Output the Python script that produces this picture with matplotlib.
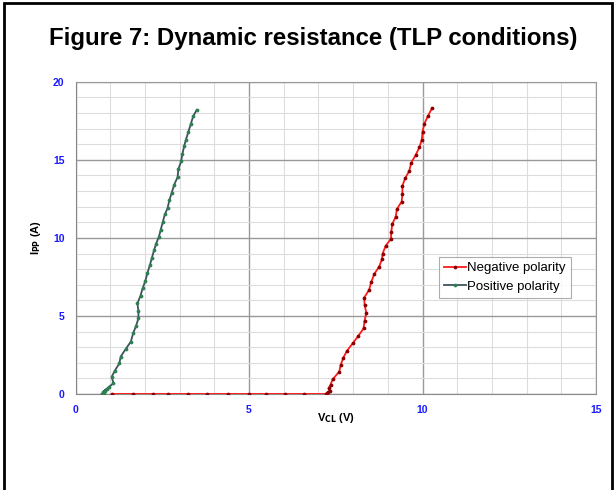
import numpy as np
import matplotlib.pyplot as plt
from matplotlib.lines import Line2D

plt.rcParams['font.family'] = ['Liberation Sans', 'DejaVu Sans']

# Positive polarity (V_CL, I_PP)
pos_v = [0.75, 0.78, 0.82, 0.85, 0.89, 0.80, 0.97, 1.09, 1.04, 1.13, 1.26, 1.30, 1.45, 1.59,
         1.66, 1.74, 1.81, 1.81, 1.78, 1.87, 1.93, 2.01, 2.07, 2.14, 2.20, 2.26,
         2.32, 2.40, 2.45, 2.51, 2.57, 2.65, 2.70, 2.77, 2.84, 2.94, 2.96, 3.04,
         3.08, 3.13, 3.18, 3.25, 3.32, 3.39, 3.49]
pos_i = [0.0, 0.05, 0.0, 0.2, 0.3, 0.15, 0.47, 0.68, 1.1, 1.5, 1.96, 2.4, 2.9, 3.35,
         3.9, 4.35, 4.84, 5.33, 5.8, 6.3, 6.76, 7.25, 7.76, 8.25, 8.74, 9.2,
         9.64, 10.06, 10.5, 11.0, 11.5, 11.9, 12.4, 12.9, 13.4, 13.9, 14.4, 14.9,
         15.4, 15.9, 16.3, 16.8, 17.3, 17.8, 18.2]

# Negative polarity (V_CL, I_PP)
neg_v = [1.04, 1.64, 2.23, 2.66, 3.25, 3.80, 4.40, 4.99, 5.49, 6.05, 6.59, 7.21,
         7.24, 7.28, 7.32, 7.29, 7.35, 7.41, 7.60, 7.64, 7.72, 7.82, 7.99, 8.15,
         8.30, 8.33, 8.38, 8.33, 8.32, 8.46, 8.52, 8.61, 8.75, 8.83, 8.85, 8.94,
         9.09, 9.10, 9.13, 9.23, 9.26, 9.40, 9.42, 9.42, 9.50, 9.62, 9.67, 9.80,
         9.91, 9.98, 10.0, 10.05, 10.15, 10.27]
neg_i = [0.0, 0.0, 0.0, 0.0, 0.0, 0.0, 0.0, 0.0, 0.0, 0.0, 0.0, 0.0,
         0.05, 0.1, 0.2, 0.36, 0.6, 0.94, 1.43, 1.86, 2.33, 2.76, 3.25, 3.72,
         4.2, 4.7, 5.2, 5.7, 6.18, 6.67, 7.16, 7.69, 8.16, 8.63, 9.0, 9.5,
         9.94, 10.4, 10.9, 11.37, 11.84, 12.33, 12.82, 13.33, 13.82, 14.3, 14.8, 15.3,
         15.8, 16.3, 16.8, 17.3, 17.78, 18.3]

neg_style = dict(color='#ff1a1a', lw=1.3, marker='o', ms=1.7, mfc='#8c0000', mec='#8c0000')
pos_style = dict(color='#3d5260', lw=1.3, marker='o', ms=1.7, mfc='#2e8050', mec='#2e8050')

fig = plt.figure(figsize=(6.15, 4.9), dpi=100)
ax = fig.add_axes([0.123, 0.196, 0.846, 0.637])

# black frame round the figure (bottom edge cut off)
fig.add_artist(plt.Rectangle((0.007, -0.05), 0.988, 1.044, transform=fig.transFigure,
                             fill=False, edgecolor='black', linewidth=2))

ax.plot(neg_v, neg_i, zorder=3, **neg_style)
ax.plot(pos_v, pos_i, zorder=3, **pos_style)

ax.set_xlim(0, 15)
ax.set_ylim(0, 20)
ax.set_xticks([0, 5, 10, 15])
ax.set_yticks([0, 5, 10, 15, 20])
ax.set_xticks(np.arange(0, 16, 1), minor=True)
ax.set_yticks(np.arange(0, 21, 1), minor=True)
ax.grid(which='minor', color='#dddddd', lw=0.8)
ax.grid(which='major', color='#999999', lw=1.0)
ax.tick_params(which='both', length=0)
ax.tick_params(labelsize=7.5, labelcolor='#1a1aff', pad=8)
for lab in ax.get_xticklabels() + ax.get_yticklabels():
    lab.set_fontweight('bold')
for s in ax.spines.values():
    s.set_color('#999999')
ax.spines['left'].set_color('#888888')
ax.spines['bottom'].set_color('#888888')

ax.set_xlabel(r'V$_{\mathbf{CL}}$ (V)', fontsize=8, fontweight='bold', labelpad=-3)
ax.set_ylabel(r'I$_{\mathbf{PP}}$ (A)', fontsize=8, fontweight='bold', labelpad=7)

handles = [Line2D([], [], **neg_style), Line2D([], [], **pos_style)]
leg = ax.legend(handles, ['Negative polarity', 'Positive polarity'], loc='upper left',
                bbox_to_anchor=(0.686, 0.46), fontsize=9.5, frameon=True, fancybox=False,
                edgecolor='#999999', handlelength=1.6, handletextpad=0.1,
                borderpad=0.4, labelspacing=0.45)
leg.get_frame().set_linewidth(0.8)

fig.text(0.51, 0.922, 'Figure 7: Dynamic resistance (TLP conditions)',
         ha='center', va='center', fontsize=17.3, fontweight='bold')

fig.savefig('out.png', dpi=100)
